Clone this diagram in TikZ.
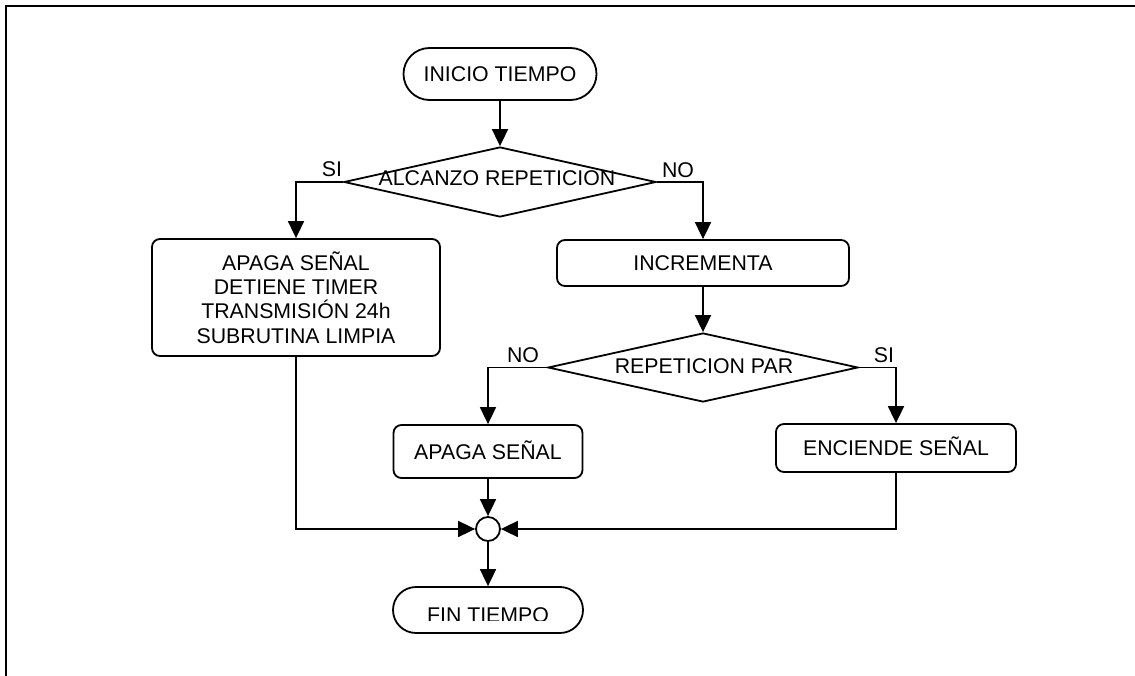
\documentclass[tikz,border=0pt]{standalone}
\usepackage{fontspec}
\setmainfont{Liberation Sans}
\usetikzlibrary{shapes.geometric,shapes.misc,arrows.meta}
\begin{document}
\begin{tikzpicture}[x=1pt,y=-1pt,
  every node/.style={font=\fontsize{21.3}{24.3}\selectfont},
  ln/.style={line width=1.8pt},
  arr/.style={ln,-{Triangle[length=17pt,width=16pt]}},
  oneline/.style={text height=15.3pt,text depth=0pt},
  stadium/.style={draw,ln,rounded rectangle,inner sep=0pt,oneline},
  box/.style={draw,ln,rounded corners=8pt,inner sep=0pt},
  decision/.style={draw,ln,diamond,inner sep=0pt},
  lbl/.style={oneline,inner sep=0pt},
  junction/.style={draw,ln,circle,minimum size=24pt,inner sep=0pt}]
\useasboundingbox (0,0) rectangle (1135,676);
\draw[line width=2.2pt] (6,676) -- (6,6) -- (1135,6);

\node[stadium,minimum width=193pt,minimum height=52pt] (ini) at (500,74) {INICIO TIEMPO};
\node[decision,minimum width=312pt,minimum height=70pt] (d1) at (500,182) {};
\node[lbl] (d1t) at (497,177.5) {ALCANZO REPETICION};
\node[lbl] (si1) at (332,169) {SI};
\node[lbl] (no1) at (678,169.5) {NO};

\node[box,minimum width=288pt,minimum height=117pt,align=center] (big) at (296,297.5)
  {APAGA SEÑAL\\DETIENE TIMER\\TRANSMISIÓN 24h\\SUBRUTINA LIMPIA};
\node[box,minimum width=292pt,minimum height=46pt,oneline] (inc) at (703,263) {INCREMENTA};

\node[decision,minimum width=310pt,minimum height=69pt] (d2) at (703,367.5) {};
\node[lbl] (d2t) at (704,365.5) {REPETICION PAR};
\node[lbl] (no2) at (523,355) {NO};
\node[lbl] (si2) at (884,355) {SI};

\node[box,minimum width=189pt,minimum height=53pt,oneline] (apa) at (488,451.5) {APAGA SEÑAL};
\node[box,minimum width=240pt,minimum height=48pt,oneline] (enc) at (896,448) {ENCIENDE SEÑAL};

\node[junction] (jn) at (488,529) {};
\node[stadium,minimum width=190pt,minimum height=46pt] (fin) at (488,610) {};
\begin{scope}
  \clip (380,580) rectangle (600,620);
  \node[lbl] (fint) at (488,614.5) {FIN TIEMPO};
\end{scope}

\draw[arr] (ini.south) -- (d1.north);
\draw[arr] (d1.west) -| (big.north);
\draw[arr] (d1.east) -| (inc.north);
\draw[arr] (inc.south) -- (d2.north);
\draw[arr] (d2.west) -| (apa.north);
\draw[arr] (d2.east) -| (enc.north);
\draw[arr] (apa.south) -- (jn.north);
\draw[arr] (big.south) |- (jn.west);
\draw[arr] (enc.south) |- (jn.east);
\draw[arr] (jn.south) -- (fin.north);
\end{tikzpicture}
\end{document}
